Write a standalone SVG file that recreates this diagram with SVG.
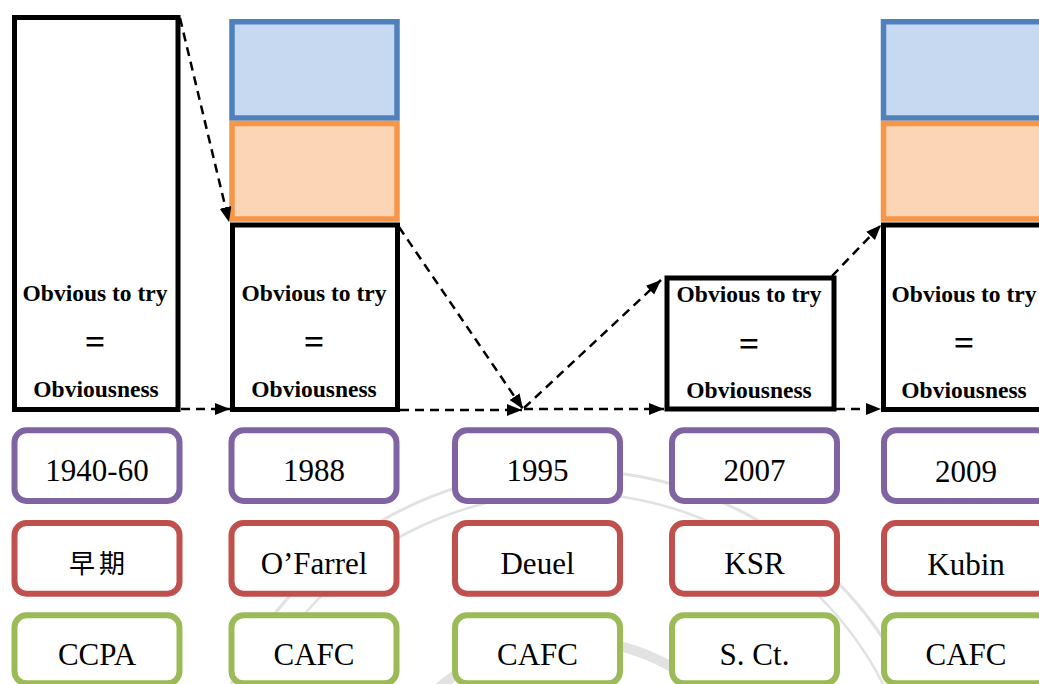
<svg xmlns="http://www.w3.org/2000/svg" width="1039" height="684" viewBox="0 0 1039 684">
<defs>
<marker id="ah" markerUnits="userSpaceOnUse" markerWidth="17" markerHeight="13" refX="15" refY="6" orient="auto">
<path d="M0,0 L15,6 L0,12 z" fill="#000"/>
</marker>
<style>
.blk{fill:#fff;stroke:#000;stroke-width:5}
.blue{fill:#C6D9F1;stroke:#4F81BD;stroke-width:5.5}
.orng{fill:#FBD5B5;stroke:#F79646;stroke-width:5.5}
.tb{font-family:"Liberation Serif","Times New Roman",serif;font-weight:bold;font-size:23.5px;text-anchor:middle;fill:#000}
.eq{font-family:"Liberation Serif","Times New Roman",serif;font-weight:bold;font-size:36px;text-anchor:middle;fill:#000}
.lbl{font-family:"Liberation Serif","Times New Roman","Noto Sans CJK TC",serif;font-size:31px;text-anchor:middle;fill:#000}
.cjk{font-family:"Noto Sans CJK TC","Noto Sans CJK SC",sans-serif;font-size:26px;letter-spacing:4px;text-anchor:middle;fill:#000}
.rb{fill:#fff;stroke-width:6}
.p{stroke:#8064A2}
.r{stroke:#C0504D}
.g{stroke:#9BBB59}
.con{fill:none;stroke:#000;stroke-width:2.5;stroke-dasharray:9 6;marker-end:url(#ah)}
.wm{fill:none;stroke:#e2e2e2}
</style>
</defs>
<rect width="1039" height="684" fill="#fff"/>
<g id="watermark">
<circle class="wm" cx="570" cy="845" r="375" stroke-width="3"/>
<circle class="wm" cx="570" cy="845" r="352" stroke-width="2.5"/>
<circle class="wm" cx="570" cy="845" r="205" stroke-width="10"/>
</g>
<g id="col1940">
<rect class="blk" x="14.5" y="17.5" width="163.5" height="392"/>
<text class="tb" x="95" y="301">Obvious to try</text>
<text class="eq" x="95" y="354">=</text>
<text class="tb" x="96" y="397">Obviousness</text>
</g>
<g id="col1988">
<rect class="blue" x="232" y="21.75" width="165" height="96.25"/>
<rect class="orng" x="232" y="123.5" width="165" height="95.5"/>
<rect class="blk" x="232.5" y="225" width="165" height="184.5"/>
<text class="tb" x="314" y="301">Obvious to try</text>
<text class="eq" x="314" y="354">=</text>
<text class="tb" x="314" y="397">Obviousness</text>
</g>
<g id="col2007">
<rect class="blk" x="667" y="278" width="167" height="131"/>
<text class="tb" x="749" y="302">Obvious to try</text>
<text class="eq" x="749" y="356">=</text>
<text class="tb" x="749" y="398">Obviousness</text>
</g>
<g id="col2009">
<rect class="blue" x="883.5" y="21.75" width="165" height="96.25"/>
<rect class="orng" x="883.5" y="123.5" width="165" height="95.5"/>
<rect class="blk" x="883.5" y="225" width="165" height="184.5"/>
<text class="tb" x="964" y="302">Obvious to try</text>
<text class="eq" x="964" y="355">=</text>
<text class="tb" x="964" y="398">Obviousness</text>
</g>
<g id="connectors">
<line class="con" x1="180" y1="18" x2="229" y2="222"/>
<line class="con" x1="181" y1="409" x2="230" y2="409"/>
<line class="con" x1="399" y1="227" x2="523" y2="409"/>
<line class="con" x1="400" y1="410" x2="522" y2="410"/>
<line class="con" x1="524" y1="408" x2="661" y2="280"/>
<line class="con" x1="524" y1="409" x2="664" y2="409"/>
<line class="con" x1="832" y1="276" x2="881" y2="225"/>
<line class="con" x1="836" y1="409" x2="881" y2="409"/>
</g>
<g id="y1940"><rect class="rb p" x="14.5" y="430.3" width="165" height="70.7" rx="12"/><text class="lbl" x="97" y="481">1940-60</text></g>
<g id="y1988"><rect class="rb p" x="231.5" y="430.3" width="165" height="70.7" rx="12"/><text class="lbl" x="314" y="481">1988</text></g>
<g id="y1995"><rect class="rb p" x="455" y="430.3" width="165" height="70.7" rx="12"/><text class="lbl" x="537.5" y="481">1995</text></g>
<g id="y2007"><rect class="rb p" x="672" y="430.3" width="165" height="70.7" rx="12"/><text class="lbl" x="754.5" y="481">2007</text></g>
<g id="y2009"><rect class="rb p" x="884" y="430.3" width="165" height="70.7" rx="12"/><text class="lbl" x="966" y="482">2009</text></g>
<g id="c1"><rect class="rb r" x="14.5" y="523" width="165" height="70.7" rx="12"/><text class="cjk" x="99" y="573">早期</text></g>
<g id="c2"><rect class="rb r" x="231.5" y="523" width="165" height="70.7" rx="12"/><text class="lbl" x="314" y="574">O’Farrel</text></g>
<g id="c3"><rect class="rb r" x="455" y="523" width="165" height="70.7" rx="12"/><text class="lbl" x="537.5" y="574">Deuel</text></g>
<g id="c4"><rect class="rb r" x="672" y="523" width="165" height="70.7" rx="12"/><text class="lbl" x="754.5" y="574">KSR</text></g>
<g id="c5"><rect class="rb r" x="884" y="523" width="165" height="70.7" rx="12"/><text class="lbl" x="966" y="575">Kubin</text></g>
<g id="k1"><rect class="rb g" x="14.5" y="615.3" width="165" height="68" rx="12"/><text class="lbl" x="97" y="665">CCPA</text></g>
<g id="k2"><rect class="rb g" x="231.5" y="615.3" width="165" height="68" rx="12"/><text class="lbl" x="314" y="665">CAFC</text></g>
<g id="k3"><rect class="rb g" x="455" y="615.3" width="165" height="68" rx="12"/><text class="lbl" x="537.5" y="665">CAFC</text></g>
<g id="k4"><rect class="rb g" x="672" y="615.3" width="165" height="68" rx="12"/><text class="lbl" x="754.5" y="665">S. Ct.</text></g>
<g id="k5"><rect class="rb g" x="884" y="615.3" width="165" height="68" rx="12"/><text class="lbl" x="966" y="665">CAFC</text></g>
</svg>
